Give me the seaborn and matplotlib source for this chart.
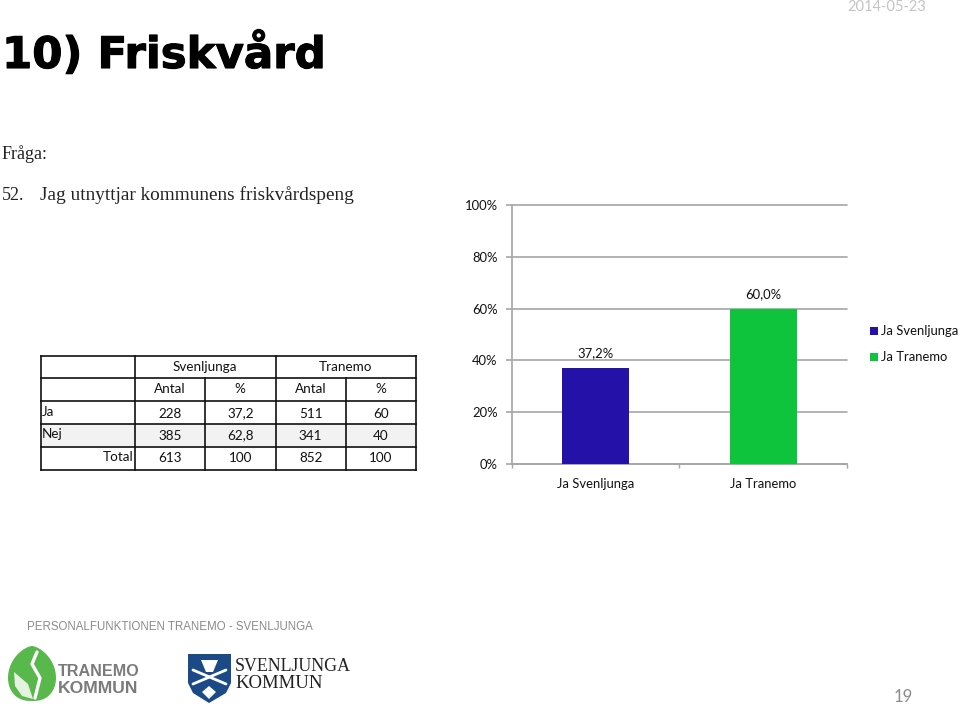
import numpy as np
import pandas as pd
import seaborn as sns
import matplotlib.pyplot as plt
import matplotlib.patheffects as pe
from matplotlib.patches import Polygon, Rectangle

# chart data
categories = ['Ja Svenljunga', 'Ja Tranemo']
percent = [37.2, 60.0]
bar_labels = ['37,2%', '60,0%']
bar_colors = ['#2311a8', '#0dc43c']
y_ticks = [0, 20, 40, 60, 80, 100]

# table data
table_head = ['Svenljunga', 'Tranemo']
table_sub = ['Antal', '%', 'Antal', '%']
row_names = ['Ja', 'Nej', 'Total']
row_ja = ['228', '37,2', '511', '60']
row_nej = ['385', '62,8', '341', '40']
row_total = ['613', '100', '852', '100']

W, H = 960, 707
CALIBRI = 'Lato'
SERIF = 'Liberation Serif'
FS = 9.4

sns.set_theme(style='white')
plt.rcParams['font.family'] = [CALIBRI, 'DejaVu Sans']

fig = plt.figure(figsize=(W / 100, H / 100), dpi=100)

# overlay in pixel coordinates for the page furniture
page = fig.add_axes([0, 0, 1, 1])
page.set_xlim(0, W)
page.set_ylim(H, 0)
page.axis('off')

# bar chart
ax = fig.add_axes([511.7 / W, 1 - 464 / H, (847 - 511.7) / W, (464 - 205) / H])
ax.patch.set_alpha(0)
df = pd.DataFrame({'kategori': categories, 'andel': percent})
sns.barplot(data=df, x='kategori', y='andel', hue='kategori', palette=bar_colors,
            width=0.4, dodge=False, saturation=1, legend=False, ax=ax, zorder=3,
            edgecolor='none')
ax.set_xlim(-0.5, 1.5)
ax.set_ylim(0, 100)
ax.set_xlabel('')
ax.set_ylabel('')
ax.set_yticks(y_ticks)
ax.set_yticklabels([f'{v}%' for v in y_ticks], fontsize=FS, color='#111111')
ax.set_xticks([0, 1])
ax.set_xticklabels(categories, fontsize=FS, color='#111111')
ax.set_xticks([-0.5, 0.5, 1.5], minor=True)
ax.tick_params(axis='x', which='major', length=0, pad=10)
ax.tick_params(axis='x', which='minor', bottom=True, length=3, width=1, color='#a6a6a6', direction='out')
ax.tick_params(axis='y', length=4, width=1.2, color='#a6a6a6', pad=6, left=True)
ax.yaxis.grid(True, color='#a6a6a6', lw=1.2, zorder=0, clip_on=False)
ax.set_axisbelow(True)
sns.despine(ax=ax, top=True, right=True)
ax.spines['left'].set_color('#a6a6a6')
ax.spines['bottom'].set_color('#a6a6a6')
ax.spines['left'].set_linewidth(1.2)
ax.spines['bottom'].set_linewidth(1.2)
for bar_patch, label in zip(ax.patches, bar_labels):
    ax.annotate(label, (bar_patch.get_x() + bar_patch.get_width() / 2, bar_patch.get_height()),
                xytext=(0, 6), textcoords='offset points', ha='center', va='bottom',
                fontsize=FS, color='#111111')

# legend
for name, color, ly in zip(categories, bar_colors, [331, 357]):
    page.add_patch(Rectangle((870, ly - 4), 8, 8, color=color, lw=0))
    page.text(881, ly, name, fontsize=FS, va='center', color='#111111')

# heading and question text
title = page.text(2, 68, '10) Friskvård', family='DejaVu Sans', weight='bold',
                  fontsize=31.3, color='black', va='baseline')
title.set_path_effects([pe.withStroke(linewidth=0.8, foreground='black')])
page.text(2, 159, 'Fråga:', family=SERIF, fontsize=13, color='#222222', va='baseline')
page.text(2, 200, '52.', family=SERIF, fontsize=13, color='#222222', va='baseline')
page.text(40, 200, 'Jag utnyttjar kommunens friskvårdspeng', family=SERIF, fontsize=13.85,
          color='#222222', va='baseline')
page.text(887, 11, '2014-05-23', fontsize=10.5, color='#c4c4c4', ha='center', va='baseline')

# table
col_x = [41, 135, 205, 275.5, 345.7, 416]
row_y = [355.7, 378, 401, 424, 447, 469.5]
page.add_patch(Rectangle((col_x[0], row_y[3]), col_x[-1] - col_x[0], row_y[4] - row_y[3],
                         color='#f2f2f2', lw=0))
for yy in row_y:
    page.plot([col_x[0], col_x[-1]], [yy, yy], color='#111111', lw=1.2, solid_capstyle='projecting')
for i, xx in enumerate(col_x):
    y_top = row_y[1] if i in (2, 4) else row_y[0]
    page.plot([xx, xx], [y_top, row_y[-1]], color='#111111', lw=1.2, solid_capstyle='projecting')

mid_x = [(col_x[i] + col_x[i + 1]) / 2 for i in range(1, 5)]
base_y = [371, 393, 417.5, 439.5, 462]
page.text((col_x[1] + col_x[3]) / 2, base_y[0], table_head[0], fontsize=FS + 0.3, ha='center', va='baseline', color='#111111')
page.text((col_x[3] + col_x[5]) / 2, base_y[0], table_head[1], fontsize=FS + 0.3, ha='center', va='baseline', color='#111111')
for xx, s in zip(mid_x, table_sub):
    page.text(xx, base_y[1], s, fontsize=FS + 0.3, ha='center', va='baseline', color='#111111')
for yy, vals in zip(base_y[2:], [row_ja, row_nej, row_total]):
    for xx, s in zip(mid_x, vals):
        page.text(xx, yy, s, fontsize=FS + 0.3, ha='center', va='baseline', color='#111111')
page.text(42, base_y[2] - 1, row_names[0], fontsize=FS + 0.3, va='baseline', color='#111111')
page.text(42, base_y[3] - 1, row_names[1], fontsize=FS + 0.3, va='baseline', color='#111111')
page.text(133.5, base_y[4] - 1, row_names[2], fontsize=FS + 0.3, ha='right', va='baseline', color='#111111')

# footer
page.text(27, 630, 'PERSONALFUNKTIONEN TRANEMO - SVENLJUNGA', family='Liberation Sans',
          fontsize=8.3, color='#8a8a8a', va='baseline')

# logos, rough shapes
leaf_t = np.linspace(0, 2 * np.pi, 80)
leaf_c = np.cos(leaf_t)
leaf_s = np.sin(leaf_t)
leaf_x = 32 + 24 * np.sign(leaf_s) * np.abs(leaf_s) ** np.where(leaf_c > 0, 1.3, 0.8)
leaf_y = 678 - np.where(leaf_c > 0, 32, 23) * leaf_c
page.add_patch(Polygon(np.column_stack([leaf_x, leaf_y]), closed=True, color='#58b84c', lw=0))
page.add_patch(Polygon([(14, 672), (28, 684), (33, 699), (22, 696), (15, 686)], closed=True, color='#e4f2df', lw=0))
page.plot([37, 32, 40, 35], [652, 664, 678, 698], color='white', lw=2.4)
page.text(58, 676, 'TRANEMO', family='Liberation Sans', weight='bold', fontsize=11.6, color='#7b7b7b', va='baseline')
page.text(58, 693, 'KOMMUN', family='Liberation Sans', weight='bold', fontsize=12.6, color='#7b7b7b', va='baseline')

shield = [(188, 654), (231, 654), (231, 683), (226, 693), (209, 703), (193, 693), (188, 683)]
page.add_patch(Polygon(shield, closed=True, color='#1c4a87', lw=0))
page.add_patch(Polygon([(201, 660), (218, 660), (213, 672), (206, 672)], closed=True, color='white', lw=0))
page.plot([193, 226], [670, 684], color='white', lw=2)
page.plot([226, 193], [670, 684], color='white', lw=2)
page.add_patch(Polygon([(209, 686), (216, 692), (209, 699), (202, 692)], closed=True, color='white', lw=0))
page.text(235, 671, 'SVENLJUNGA', family=SERIF, fontsize=12.9, color='#222222', va='baseline')
page.text(235, 688, 'KOMMUN', family=SERIF, fontsize=13.5, color='#222222', va='baseline')

page.text(903, 702, '19', fontsize=12, color='#8a8a8a', ha='center', va='baseline')

fig.savefig('out.png', dpi=100)
